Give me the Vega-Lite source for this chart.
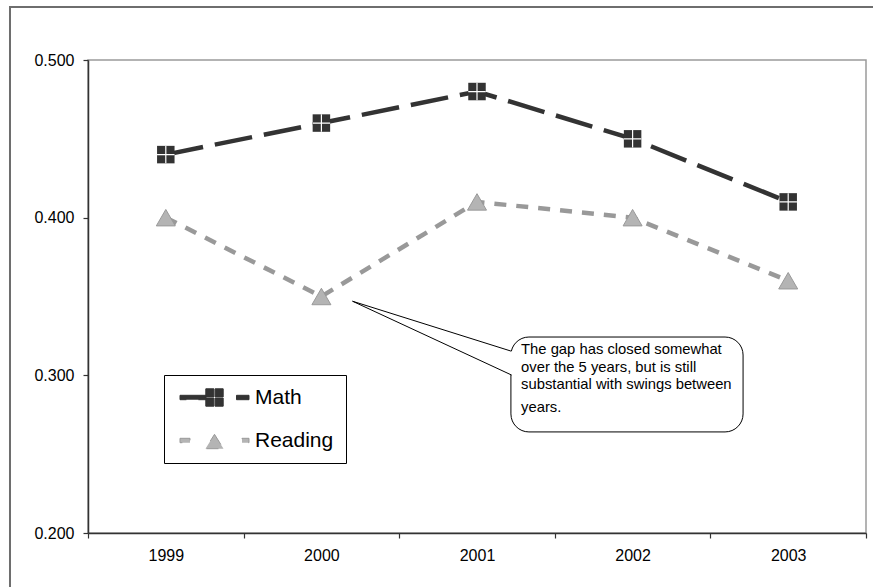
{
  "$schema": "https://vega.github.io/schema/vega-lite/v6.json",
  "width": 778,
  "height": 473,
  "autosize": {"type": "none"},
  "padding": {"left": 88, "top": 60, "right": 7, "bottom": 54},
  "background": "white",
  "config": {
    "font": "Liberation Sans",
    "view": {"stroke": "#9a9a9a", "strokeWidth": 1.5},
    "axis": {
      "grid": false,
      "title": null,
      "domainColor": "#333333",
      "domainWidth": 1.5,
      "tickColor": "#333333",
      "tickWidth": 1.2,
      "tickSize": 5,
      "labelFont": "Liberation Sans",
      "labelFontSize": 16,
      "labelColor": "#000000"
    }
  },
  "datasets": {
    "scores": [
      {"year": "1999", "series": "Math", "value": 0.44},
      {"year": "2000", "series": "Math", "value": 0.46},
      {"year": "2001", "series": "Math", "value": 0.48},
      {"year": "2002", "series": "Math", "value": 0.45},
      {"year": "2003", "series": "Math", "value": 0.41},
      {"year": "1999", "series": "Reading", "value": 0.40},
      {"year": "2000", "series": "Reading", "value": 0.35},
      {"year": "2001", "series": "Reading", "value": 0.41},
      {"year": "2002", "series": "Reading", "value": 0.40},
      {"year": "2003", "series": "Reading", "value": 0.36}
    ],
    "note": [
      {"text": "The gap has closed somewhat\nover the 5 years, but is still\nsubstantial with swings between"}
    ],
    "note2": [
      {"text": "years."}
    ]
  },
  "layer": [
    {
      "data": {"name": "scores"},
      "encoding": {
        "x": {
          "field": "year",
          "type": "ordinal",
          "scale": {"type": "band", "paddingInner": 0, "paddingOuter": 0},
          "axis": {"labelAngle": 0, "tickBand": "extent", "labelPadding": 9}
        },
        "y": {
          "field": "value",
          "type": "quantitative",
          "scale": {"domain": [0.2, 0.5], "nice": false, "zero": false},
          "axis": {"values": [0.2, 0.3, 0.4, 0.5], "format": ".3f", "labelPadding": 9}
        }
      },
      "layer": [
        {
          "mark": {"type": "line", "strokeWidth": 4.5, "strokeCap": "butt"},
          "encoding": {
            "color": {
              "field": "series",
              "type": "nominal",
              "scale": {"domain": ["Math", "Reading"], "range": ["#333333", "#999999"]},
              "legend": {
                "title": null,
                "orient": "none",
                "legendX": 76,
                "legendY": 315,
                "fillColor": "white",
                "strokeColor": "#000000",
                "padding": 12,
                "labelFont": "Liberation Sans",
                "labelFontSize": 21,
                "labelColor": "#000000",
                "symbolSize": 400,
                "symbolOffset": 28,
                "labelOffset": 30,
                "rowPadding": 20,
                "encode": {
                  "symbols": {
                    "update": {
                      "shape": [
                        {"test": "datum.value === 'Math'", "value": "M-3.45,-0.22H-0.85V0.22H-3.45Z M-0.87,-0.87H-0.06V-0.06H-0.87Z M0.06,-0.87H0.87V-0.06H0.06Z M-0.87,0.06H-0.06V0.87H-0.87Z M0.06,0.06H0.87V0.87H0.06Z M2.2,-0.22H3.45V0.22H2.2Z"},
                        {"value": "M-3.45,-0.22H-2.45V0.22H-3.45Z M0,-0.62L0.9,0.82L-0.9,0.82Z M2.75,-0.22H3.45V0.22H2.75Z"}
                      ],
                      "fill": [
                        {"test": "datum.value === 'Math'", "value": "#333333"},
                        {"value": "#b4b4b4"}
                      ],
                      "stroke": [
                        {"test": "datum.value === 'Math'", "value": "transparent"},
                        {"value": "#999999"}
                      ],
                      "strokeWidth": {"value": 1},
                      "strokeDash": {"value": []},
                      "opacity": {"value": 1}
                    }
                  }
                }
              }
            },
            "strokeDash": {
              "field": "series",
              "type": "nominal",
              "scale": {"domain": ["Math", "Reading"], "range": [[38, 12], [12, 10]]},
              "legend": null
            }
          }
        },
        {
          "transform": [{"filter": "datum.series === 'Math'"}],
          "mark": {"type": "point", "shape": "square", "size": 306, "filled": true, "fill": "#333333", "strokeWidth": 0, "opacity": 1}
        },
        {
          "transform": [{"filter": "datum.series === 'Math'"}],
          "mark": {"type": "point", "shape": "M-1,0H1M0,-1V1", "size": 306, "filled": false, "stroke": "#ffffff", "strokeWidth": 1.2, "opacity": 1}
        },
        {
          "transform": [{"filter": "datum.series === 'Reading'"}],
          "mark": {"type": "point", "shape": "triangle-up", "size": 361, "filled": true, "fill": "#b4b4b4", "stroke": "#999999", "strokeWidth": 1, "opacity": 1}
        }
      ]
    },
    {
      "data": {"name": "note"},
      "layer": [
        {
          "mark": {"type": "rect", "fill": "white", "stroke": "#000000", "strokeWidth": 1, "cornerRadius": 18},
          "encoding": {
            "x": {"datum": 2.718, "type": "quantitative", "scale": {"domain": [0, 5], "nice": false, "zero": false}, "axis": null},
            "x2": {"datum": 4.21},
            "y": {"datum": 0.3243, "type": "quantitative", "scale": {"domain": [0.2, 0.5], "nice": false, "zero": false}, "axis": null},
            "y2": {"datum": 0.2641}
          }
        },
        {
          "mark": {"type": "rule", "stroke": "#ffffff", "strokeWidth": 3},
          "encoding": {
            "x": {"datum": 2.718, "type": "quantitative", "scale": {"domain": [0, 5], "nice": false, "zero": false}, "axis": null},
            "y": {"datum": 0.3152, "type": "quantitative", "scale": {"domain": [0.2, 0.5], "nice": false, "zero": false}, "axis": null},
            "y2": {"datum": 0.3004}
          }
        },
        {
          "mark": {"type": "rule", "stroke": "#000000", "strokeWidth": 1},
          "encoding": {
            "x": {"datum": 1.70, "type": "quantitative", "scale": {"domain": [0, 5], "nice": false, "zero": false}, "axis": null},
            "x2": {"datum": 2.718},
            "y": {"datum": 0.347, "type": "quantitative", "scale": {"domain": [0.2, 0.5], "nice": false, "zero": false}, "axis": null},
            "y2": {"datum": 0.3154}
          }
        },
        {
          "mark": {"type": "rule", "stroke": "#000000", "strokeWidth": 1},
          "encoding": {
            "x": {"datum": 1.70, "type": "quantitative", "scale": {"domain": [0, 5], "nice": false, "zero": false}, "axis": null},
            "x2": {"datum": 2.722},
            "y": {"datum": 0.347, "type": "quantitative", "scale": {"domain": [0.2, 0.5], "nice": false, "zero": false}, "axis": null},
            "y2": {"datum": 0.3002}
          }
        },
        {
          "mark": {"type": "text", "align": "left", "baseline": "top", "fontSize": 14.8, "lineHeight": 17.5, "lineBreak": "\n", "color": "#000000", "font": "Liberation Sans"},
          "encoding": {
            "x": {"datum": 2.783, "type": "quantitative", "scale": {"domain": [0, 5], "nice": false, "zero": false}, "axis": null},
            "y": {"datum": 0.3211, "type": "quantitative", "scale": {"domain": [0.2, 0.5], "nice": false, "zero": false}, "axis": null},
            "text": {"field": "text"}
          }
        },
        {
          "data": {"name": "note2"},
          "mark": {"type": "text", "align": "left", "baseline": "top", "fontSize": 14.8, "color": "#000000", "font": "Liberation Sans"},
          "encoding": {
            "x": {"datum": 2.783, "type": "quantitative", "scale": {"domain": [0, 5], "nice": false, "zero": false}, "axis": null},
            "y": {"datum": 0.2846, "type": "quantitative", "scale": {"domain": [0.2, 0.5], "nice": false, "zero": false}, "axis": null},
            "text": {"field": "text"}
          }
        },
        {
          "mark": {"type": "rect", "fill": "white", "fillOpacity": 0, "stroke": "#6e6e6e", "strokeWidth": 2},
          "encoding": {
            "x": {"datum": -0.5013, "type": "quantitative", "scale": {"domain": [0, 5], "nice": false, "zero": false}, "axis": null},
            "x2": {"datum": 6},
            "y": {"datum": 0.5336, "type": "quantitative", "scale": {"domain": [0.2, 0.5], "nice": false, "zero": false}, "axis": null},
            "y2": {"datum": 0.1}
          }
        }
      ]
    }
  ],
  "resolve": {
    "scale": {"x": "independent", "y": "independent"},
    "axis": {"x": "independent", "y": "independent"}
  }
}
